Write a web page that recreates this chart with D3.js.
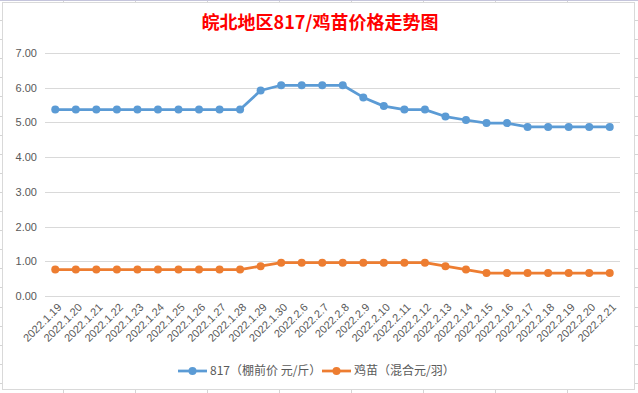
<!DOCTYPE html>
<html>
<head>
<meta charset="utf-8">
<script src="https://d3js.org/d3.v7.min.js"></script>
<style>
  html, body { margin: 0; padding: 0; background: #fff; }
  svg { display: block; }
</style>
</head>
<body>
<div id="chart"></div>
<script>
// 皖北地区817/鸡苗价格走势图 — line chart, two series

const dates = [
  '2022.1.19', '2022.1.20', '2022.1.21', '2022.1.22', '2022.1.23', '2022.1.24',
  '2022.1.25', '2022.1.26', '2022.1.27', '2022.1.28', '2022.1.29', '2022.1.30',
  '2022.2.6', '2022.2.7', '2022.2.8', '2022.2.9', '2022.2.10', '2022.2.11',
  '2022.2.12', '2022.2.13', '2022.2.14', '2022.2.15', '2022.2.16', '2022.2.17',
  '2022.2.18', '2022.2.19', '2022.2.20', '2022.2.21'
];

// 817 棚前价 (元/斤)
const price817 = [
  5.37, 5.37, 5.37, 5.37, 5.37, 5.37, 5.37, 5.37, 5.37, 5.37, 5.92, 6.07,
  6.07, 6.07, 6.07, 5.72, 5.47, 5.37, 5.37, 5.17, 5.07, 4.98, 4.98, 4.87,
  4.87, 4.87, 4.87, 4.87
];

// 鸡苗 混合 (元/羽)
const priceChick = [
  0.76, 0.76, 0.76, 0.76, 0.76, 0.76, 0.76, 0.76, 0.76, 0.76, 0.86, 0.96,
  0.96, 0.96, 0.96, 0.96, 0.96, 0.96, 0.96, 0.86, 0.76, 0.66, 0.66, 0.66,
  0.66, 0.66, 0.66, 0.66
];

const yTicks = [0, 1, 2, 3, 4, 5, 6, 7];

const seriesList = [
  { name: '817（棚前价 元/斤）', values: price817, color: '#5b9bd5' },
  { name: '鸡苗（混合元/羽）', values: priceChick, color: '#ed7d31' }
];

const width = 638;
const height = 393;
const margin = { top: 53, right: 18, bottom: 97, left: 45 };

const svg = d3.select('#chart')
  .append('svg')
  .attr('width', width)
  .attr('height', height);

// spreadsheet cells peeking out behind the chart
const colLines = d3.range(63, width, 72);
const rowLines = d3.range(20, height, 19.1);
svg.selectAll('.col-line')
  .data(colLines)
  .enter()
  .append('line')
  .attr('x1', d => d + 0.5)
  .attr('x2', d => d + 0.5)
  .attr('y1', 0)
  .attr('y2', height)
  .style('stroke', '#d4d4d4')
  .style('stroke-width', 1);
svg.selectAll('.row-line')
  .data(rowLines)
  .enter()
  .append('line')
  .attr('x1', 0)
  .attr('x2', width)
  .attr('y1', d => Math.round(d) + 0.5)
  .attr('y2', d => Math.round(d) + 0.5)
  .style('stroke', '#d4d4d4')
  .style('stroke-width', 1);
svg.append('line')
  .attr('x1', 0).attr('x2', width)
  .attr('y1', 0.5).attr('y2', 0.5)
  .style('stroke', '#c5c5dc');

// chart area
svg.append('rect')
  .attr('x', 2.5)
  .attr('y', 2.5)
  .attr('width', 632)
  .attr('height', 387)
  .style('fill', '#fff')
  .style('stroke', '#d9d9d9')
  .style('stroke-width', 1);

// title
svg.append('text')
  .attr('x', 320)
  .attr('y', 29)
  .attr('text-anchor', 'middle')
  .style('font-family', '"Noto Sans CJK SC", sans-serif')
  .style('font-size', '18px')
  .style('font-weight', 'bold')
  .style('fill', '#ff0000')
  .text('皖北地区817/鸡苗价格走势图');

const x = d3.scaleBand()
  .domain(dates)
  .range([margin.left, width - margin.right]);

const y = d3.scaleLinear()
  .domain([0, 7])
  .range([height - margin.bottom, margin.top]);

// gridlines
svg.append('g')
  .selectAll('line')
  .data(yTicks)
  .enter()
  .append('line')
  .attr('x1', margin.left)
  .attr('x2', width - margin.right)
  .attr('y1', d => Math.round(y(d)) + 0.5)
  .attr('y2', d => Math.round(y(d)) + 0.5)
  .style('stroke', '#d9d9d9')
  .style('stroke-width', 1);

// y axis labels
const yAxis = d3.axisLeft(y)
  .tickValues(yTicks)
  .tickFormat(d3.format('.2f'))
  .tickSize(0)
  .tickPadding(8);

svg.append('g')
  .attr('transform', `translate(${margin.left},0)`)
  .call(yAxis)
  .call(g => g.select('.domain').remove())
  .selectAll('text')
  .style('font-family', '"Liberation Sans", Arial, sans-serif')
  .style('font-size', '11px')
  .style('fill', '#595959');

// x axis labels, rotated
const xAxis = d3.axisBottom(x)
  .tickSize(0)
  .tickPadding(0);

svg.append('g')
  .attr('transform', `translate(0,${height - margin.bottom})`)
  .call(xAxis)
  .call(g => g.select('.domain').remove())
  .selectAll('text')
  .attr('text-anchor', 'end')
  .attr('dy', 0)
  .attr('transform', 'translate(7,12) rotate(-45)')
  .style('font-family', '"Liberation Sans", Arial, sans-serif')
  .style('font-size', '11px')
  .style('fill', '#595959');

// lines and markers
const line = d3.line()
  .x((d, i) => x(dates[i]) + x.bandwidth() / 2)
  .y(d => y(d));

seriesList.forEach(s => {
  svg.append('path')
    .datum(s.values)
    .attr('d', line)
    .style('fill', 'none')
    .style('stroke', s.color)
    .style('stroke-width', 2.75)
    .style('stroke-linejoin', 'round');

  svg.append('g')
    .selectAll('circle')
    .data(s.values)
    .enter()
    .append('circle')
    .attr('cx', (d, i) => x(dates[i]) + x.bandwidth() / 2)
    .attr('cy', d => y(d))
    .attr('r', 4)
    .style('fill', s.color);
});

// legend
const legendPos = [178, 322];
const legend = svg.append('g')
  .selectAll('g')
  .data(seriesList)
  .enter()
  .append('g')
  .attr('transform', (d, i) => `translate(${legendPos[i]},371)`);

legend.append('line')
  .attr('x1', 0)
  .attr('x2', 29)
  .style('stroke', d => d.color)
  .style('stroke-width', 2.75);

legend.append('circle')
  .attr('cx', 14.5)
  .attr('r', 4)
  .style('fill', d => d.color);

legend.append('text')
  .attr('x', 32)
  .attr('y', 4)
  .style('font-family', '"Noto Sans CJK SC", sans-serif')
  .style('font-size', '12px')
  .style('fill', '#595959')
  .text(d => d.name);
</script>
</body>
</html>
